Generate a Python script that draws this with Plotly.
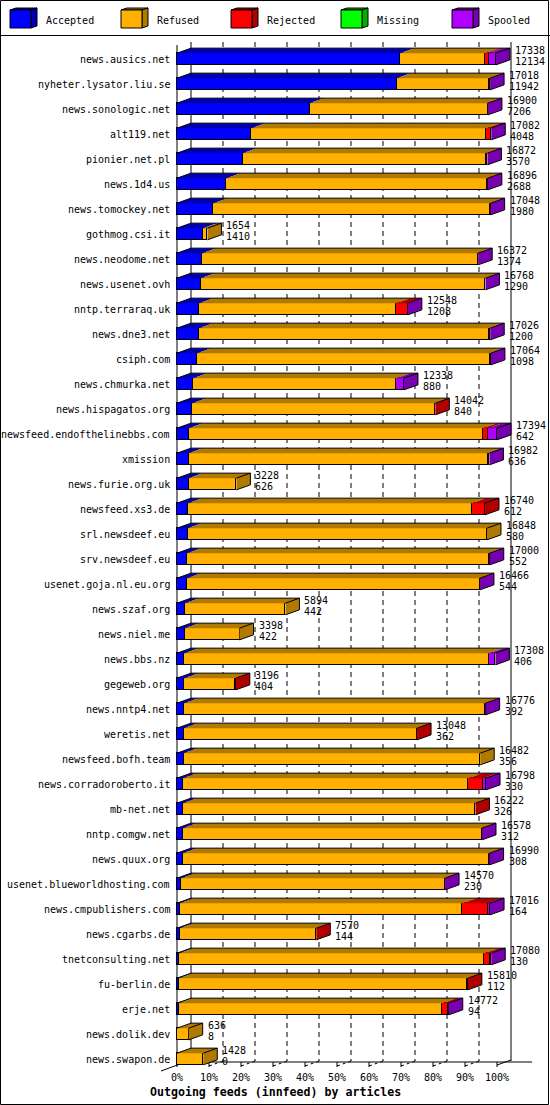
import plotly.graph_objects as go

hosts = ["news.ausics.net", "nyheter.lysator.liu.se", "news.sonologic.net", "alt119.net",
         "pionier.net.pl", "news.1d4.us", "news.tomockey.net", "gothmog.csi.it",
         "news.neodome.net", "news.usenet.ovh", "nntp.terraraq.uk", "news.dne3.net",
         "csiph.com", "news.chmurka.net", "news.hispagatos.org", "newsfeed.endofthelinebbs.com",
         "xmission", "news.furie.org.uk", "newsfeed.xs3.de", "srl.newsdeef.eu",
         "srv.newsdeef.eu", "usenet.goja.nl.eu.org", "news.szaf.org", "news.niel.me",
         "news.bbs.nz", "gegeweb.org", "news.nntp4.net", "weretis.net",
         "newsfeed.bofh.team", "news.corradoroberto.it", "mb-net.net", "nntp.comgw.net",
         "news.quux.org", "usenet.blueworldhosting.com", "news.cmpublishers.com", "news.cgarbs.de",
         "tnetconsulting.net", "fu-berlin.de", "erje.net", "news.dolik.dev", "news.swapon.de"]

totals = [17338, 17018, 16900, 17082, 16872, 16896, 17048, 1654, 16372, 16768,
          12548, 17026, 17064, 12338, 14042, 17394, 16982, 3228, 16740, 16848,
          17000, 16466, 5894, 3398, 17308, 3196, 16776, 13048, 16482, 16798,
          16222, 16578, 16990, 14570, 17016, 7570, 17080, 15810, 14772, 636, 1428]

accepted = [12134, 11942, 7206, 4048, 3570, 2688, 1980, 1410, 1374, 1290,
            1208, 1200, 1098, 880, 840, 642, 636, 626, 612, 580,
            552, 544, 442, 422, 406, 404, 392, 362, 356, 330,
            326, 312, 308, 230, 164, 144, 130, 112, 94, 8, 0]

refused = [4634, 5036, 9674, 12774, 13202, 14188, 15048, 244, 14978, 15458,
           10700, 15766, 15906, 11045, 13182, 15990, 16246, 2602, 15421, 16268,
           16398, 15902, 5452, 2976, 16576, 2772, 16364, 12666, 16126, 15508,
           15876, 16246, 16662, 14320, 15349, 7406, 16580, 15678, 14322, 628, 1428]

rejected = [170, 0, 0, 240, 80, 0, 0, 0, 0, 0,
            630, 0, 0, 0, 20, 272, 0, 0, 707, 0,
            0, 0, 0, 0, 0, 20, 0, 20, 0, 815,
            20, 0, 0, 0, 1413, 20, 310, 20, 326, 0, 0]

missing = [0, 0, 0, 0, 0, 0, 0, 0, 0, 0,
           0, 0, 0, 0, 0, 0, 0, 0, 0, 0,
           0, 0, 0, 0, 0, 0, 0, 0, 0, 0,
           0, 0, 0, 0, 0, 0, 0, 0, 0, 0, 0]

spooled = [400, 40, 20, 20, 20, 20, 20, 0, 20, 20,
           10, 60, 60, 413, 0, 490, 100, 0, 0, 0,
           50, 20, 0, 0, 326, 0, 20, 0, 0, 145,
           0, 20, 20, 20, 90, 0, 60, 0, 30, 0, 0]

series_names = ["Accepted", "Refused", "Rejected", "Missing", "Spooled"]
front_colors = ["#0000FF", "#FFB000", "#FF0000", "#00FF00", "#B000FF"]
dark_colors = ["#0000B0", "#B07A00", "#B00000", "#00B000", "#7800B0"]
pct_ticks = [0, 10, 20, 30, 40, 50, 60, 70, 80, 90, 100]
title_text = "Outgoing feeds (innfeed) by articles"

series = [accepted, refused, rejected, missing, spooled]

W, H = 550, 1105
X0PX, PXW = 177, 320
ROW0, ROWH = 59, 25
MAXT = max(totals)
s = MAXT / PXW
FONT = "DejaVu Sans Mono"


def X(px):
    return (px - X0PX) * s


def Y(py):
    return (py - ROW0) / ROWH


DX = 14 * s
DY = 5 / ROWH
BH = 11.7 / ROWH
n = len(hosts)
rows = list(range(n))

fig = go.Figure()

# front faces
for name, vals, col in zip(series_names, series, front_colors):
    fig.add_trace(go.Bar(y=rows, x=vals, orientation="h", width=BH, name=name,
                         marker=dict(color=col, line=dict(color="black", width=1)),
                         hoverinfo="skip", showlegend=False))

# top and side faces
polys = [([], []) for _ in series]
outline_x, outline_y = [], []
for i in rows:
    yt = i - BH / 2
    yb = i + BH / 2
    start = 0
    last_j, end = None, 0
    for j, vals in enumerate(series):
        v = vals[i]
        if v <= 0:
            continue
        x0, x1 = start, start + v
        px, py = polys[j]
        px += [x0, x1, x1 + DX, x0 + DX, x0, None]
        py += [yt, yt, yt - DY, yt - DY, yt, None]
        start = x1
        last_j, end = j, x1
    if last_j is not None:
        px, py = polys[last_j]
        px += [end, end + DX, end + DX, end, end, None]
        py += [yt, yt - DY, yb - DY, yb, yt, None]
        outline_x += [0, DX, end + DX, end + DX, end, None, end, end + DX, None]
        outline_y += [yt, yt - DY, yt - DY, yb - DY, yb, None, yt, yt - DY, None]

for j, (px, py) in enumerate(polys):
    if px:
        fig.add_trace(go.Scatter(x=px, y=py, mode="lines", fill="toself",
                                 fillcolor=dark_colors[j], line=dict(width=0, color=dark_colors[j]),
                                 hoverinfo="skip", showlegend=False))
fig.add_trace(go.Scatter(x=outline_x, y=outline_y, mode="lines",
                         line=dict(color="black", width=1), hoverinfo="skip", showlegend=False))

shapes = []
# back wall, gridlines
for p in pct_ticks:
    xv = p / 100 * MAXT + DX
    if p in (0, 100):
        shapes.append(dict(type="line", xref="x", yref="y", x0=xv, x1=xv, y0=Y(42), y1=Y(1061),
                           line=dict(color="black", width=1), layer="below"))
    else:
        shapes.append(dict(type="line", xref="x", yref="y", x0=xv, x1=xv, y0=Y(42), y1=Y(1061),
                           line=dict(color="black", width=1, dash="5px,4px"), layer="below"))
        xf = p / 100 * MAXT
        shapes.append(dict(type="line", xref="x", yref="y", x0=xf, x1=xf + DX, y0=Y(1066), y1=Y(1061),
                           line=dict(color="black", width=1, dash="3px,3px"), layer="below"))
    xf = p / 100 * MAXT
    shapes.append(dict(type="line", xref="x", yref="y", x0=xf, x1=xf, y0=Y(1062), y1=Y(1067),
                       line=dict(color="black", width=1), layer="below"))
# front axis line
shapes.append(dict(type="line", xref="x", yref="y", x0=0, x1=0, y0=Y(45), y1=Y(1065),
                   line=dict(color="black", width=1), layer="below"))
# floor lines
shapes.append(dict(type="line", xref="x", yref="y", x0=0, x1=X(532), y0=Y(1062), y1=Y(1062),
                   line=dict(color="black", width=1), layer="below"))
shapes.append(dict(type="line", xref="x", yref="y", x0=X(161), x1=DX, y0=Y(1071), y1=Y(1060),
                   line=dict(color="black", width=1), layer="below"))
shapes.append(dict(type="line", xref="x", yref="y", x0=MAXT, x1=MAXT + DX, y0=Y(1065), y1=Y(1060),
                   line=dict(color="black", width=1), layer="below"))


def PX(px):
    return px / W


def PY(py):
    return 1 - py / H


def path(pts):
    return "M " + " L ".join(f"{PX(a)},{PY(b)}" for a, b in pts) + " Z"


# frame and legend separator
shapes.append(dict(type="rect", xref="paper", yref="paper", x0=PX(0.5), x1=PX(548.5),
                   y0=PY(0.5), y1=PY(1104.5), line=dict(color="black", width=1)))
shapes.append(dict(type="line", xref="paper", yref="paper", x0=0, x1=1, y0=PY(35.5), y1=PY(35.5),
                   line=dict(color="black", width=1)))

annotations = []
leg_x = [10, 121, 231, 341, 452]
for lx, name, fc, dc in zip(leg_x, series_names, front_colors, dark_colors):
    shapes.append(dict(type="path", xref="paper", yref="paper",
                       path=path([(lx, 10), (lx + 6, 8), (lx + 27, 8), (lx + 21, 10)]),
                       fillcolor=dc, line=dict(color="black", width=1)))
    shapes.append(dict(type="path", xref="paper", yref="paper",
                       path=path([(lx + 21, 10), (lx + 27, 8), (lx + 27, 26), (lx + 21, 28)]),
                       fillcolor=dc, line=dict(color="black", width=1)))
    shapes.append(dict(type="rect", xref="paper", yref="paper", x0=PX(lx), x1=PX(lx + 21),
                       y0=PY(10), y1=PY(28), fillcolor=fc, line=dict(color="black", width=1)))
    annotations.append(dict(x=PX(lx + 34), y=PY(20), xref="paper", yref="paper", text=name,
                            showarrow=False, xanchor="left", yanchor="middle",
                            font=dict(family=FONT, size=10, color="black")))

for i in rows:
    annotations.append(dict(x=X(172), y=i, xref="x", yref="y", text=hosts[i], showarrow=False,
                            xanchor="right", yanchor="middle",
                            font=dict(family=FONT, size=10, color="black")))
    annotations.append(dict(x=totals[i] + 17 * s, y=i, xref="x", yref="y", text=str(totals[i]),
                            showarrow=False, xanchor="left", yanchor="middle", yshift=9,
                            font=dict(family=FONT, size=10, color="black")))
    annotations.append(dict(x=totals[i] + 17 * s, y=i, xref="x", yref="y", text=str(accepted[i]),
                            showarrow=False, xanchor="left", yanchor="middle", yshift=-2,
                            font=dict(family=FONT, size=10, color="black")))

for p in pct_ticks:
    annotations.append(dict(x=p / 100 * MAXT, y=Y(1077), xref="x", yref="y", text=f"{p}%",
                            showarrow=False, xanchor="center", yanchor="middle",
                            font=dict(family=FONT, size=10, color="black")))

annotations.append(dict(x=X(148), y=Y(1092), xref="x", yref="y", text=f"<b>{title_text}</b>",
                        showarrow=False, xanchor="left", yanchor="middle",
                        font=dict(family=FONT, size=11.6, color="black")))

fig.update_layout(
    width=W, height=H, margin=dict(l=0, r=0, t=0, b=0),
    paper_bgcolor="white", plot_bgcolor="white",
    barmode="stack", bargap=0,
    xaxis=dict(range=[X(0), X(W)], visible=False, fixedrange=True),
    yaxis=dict(range=[Y(H), Y(0)], visible=False, fixedrange=True),
    shapes=shapes, annotations=annotations, showlegend=False,
)

fig.write_html("out.html", config={"displayModeBar": False},
               post_script="document.body.style.margin='0px';document.body.style.overflow='hidden';")
